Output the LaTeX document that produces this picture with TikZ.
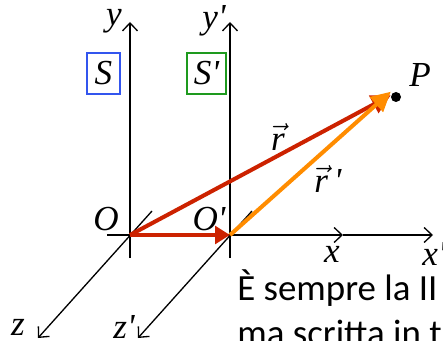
\documentclass[tikz,border=0pt]{standalone}
\usepackage{fontspec}
\usepackage{amsmath}
\usetikzlibrary{arrows.meta}
\newfontfamily\carlito{Carlito}
\newfontfamily\tms{Liberation Serif}
\newcommand{\pr}{\textquotesingle}
\definecolor{frameS}{HTML}{3355EE}
\definecolor{frameSp}{HTML}{1E9A1E}
\definecolor{rvec}{HTML}{CC2200}
\definecolor{rpvec}{HTML}{FF8C00}

\begin{document}
\begin{tikzpicture}[x=0.02cm,y=-0.02cm,
  axis/.style={line width=0.75pt,-{Straight Barb[length=4.5pt,width=8.5pt]}},
  lbl/.style={font=\tms\itshape\fontsize{20}{24}\selectfont,inner sep=0pt},
  framebox/.style={draw,line width=0.6pt,minimum width=#1,minimum height=41*0.02cm,inner sep=0pt},
  vec/.style={line width=2.3pt,-{Triangle[length=11pt,width=11pt]}}]
\useasboundingbox (0,0) rectangle (443,341);
% origins and point
\coordinate (O) at (130,235);
\coordinate (Op) at (230,235);
\coordinate (P) at (396,97);
% axes of S
\draw[axis] (130,258) -- (130,22) coordinate (yend);
\draw[axis] (152,211) -- (38,338) coordinate (zend);
\draw[axis] (107,235) -- (343,235) coordinate (xend);
% axes of S'
\draw[axis] (230,258) -- (230,22) coordinate (ypend);
\draw[axis] (252,211) -- (138,338) coordinate (zpend);
\draw[axis] (xend) -- (433,235) coordinate (xpend);
% labels of the axes
\node[lbl] (ylab) at (114,21) {y};
\node[lbl] (yplab) at (214,21) {y\pr};
\node[lbl] (xlab) at (332,254) {x};
\node[lbl] (xplab) at (434,254) {x\pr};
\node[lbl] (zlab) at (18,327) {z};
\node[lbl] (zplab) at (124,327) {z\pr};
\node[lbl] (Olab) at (106,219) {O};
\node[lbl] (Oplab) at (209,219) {O\pr};
% frames
\node[lbl,framebox=33*0.02cm,draw=frameS] (Sbox) at (103.5,73.5) {S};
\node[lbl,framebox=39*0.02cm,draw=frameSp] (Spbox) at (206.5,73.5) {S\pr};
% vectors
\draw[rvec,line width=2.3pt,-{Triangle[length=8.5pt,width=10pt]}] (O) -- (Op);
\draw[vec,rvec] (O) -- ([xshift=-3,yshift=1]P);
\draw[vec,rpvec] (Op) -- ([xshift=-3,yshift=3]P);
\fill (P) circle (5);
\node[lbl] (Plab) at (420,75) {P};
\node[lbl] (rlab) at (278,137) {$\vec{\mbox{\tms\itshape r}}$};
\node[lbl] (rplab) at (328,179) {$\vec{\mbox{\tms\itshape r}}$\,\pr};
% text
\node[anchor=base west,inner sep=0pt,font=\carlito\fontsize{21}{25}\selectfont] (line1) at (237,300) {È sempre la II};
\node[anchor=base west,inner sep=0pt,font=\carlito\fontsize{21}{25}\selectfont] (line2) at (237,345) {ma scritta in t};
\end{tikzpicture}
\end{document}
